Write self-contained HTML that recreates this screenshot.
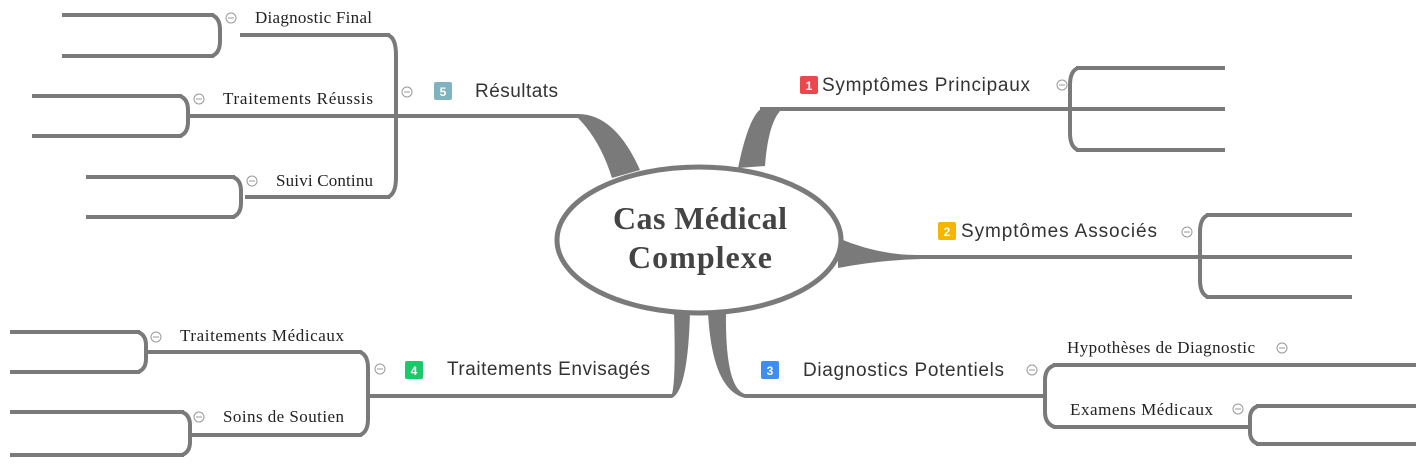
<!DOCTYPE html>
<html><head><meta charset="utf-8"><style>
html,body{margin:0;padding:0;background:#fff;width:1416px;height:466px;overflow:hidden}
svg{display:block}
.s{font-family:"Liberation Serif",serif;font-size:17px;fill:#222}
.m{font-family:"Liberation Sans",sans-serif;font-size:19px;fill:#333}
.b{font-family:"Liberation Sans",sans-serif;font-size:12px;fill:#fff;font-weight:bold}
</style></head><body>
<svg width="1416" height="466" viewBox="0 0 1416 466">
<g fill="none" stroke="#7a7a7a" stroke-width="4" stroke-linecap="butt">
<path d="M390 116 H578"/>
<path d="M390 35 H240"/><path d="M395 116 H190"/><path d="M390 197 H245"/>
<path d="M388 35 Q396 38 396 55 V177 Q396 194 388 197"/>
<path d="M214 15 H62 M214 56 H62"/><path d="M212 15 Q220 18 220 30 V41 Q220 53 212 56"/>
<path d="M182 96 H32 M182 136 H32"/><path d="M180 96 Q188 99 188 110 V122 Q188 133 180 136"/>
<path d="M235 177 H86 M235 217 H86"/><path d="M233 177 Q241 180 241 191 V203 Q241 214 233 217"/>
<path d="M760 109 H1072"/>
<path d="M1078 68 Q1070 71 1070 85 V133 Q1070 147 1078 150"/>
<path d="M1076 68 H1225 M1070 109 H1225 M1076 150 H1225"/>
<path d="M915 257 H1200"/>
<path d="M1208 215 Q1200 218 1200 232 V280 Q1200 294 1208 297"/>
<path d="M1206 215 H1352 M1200 257 H1352 M1206 297 H1352"/>
<path d="M745 396 H1045"/>
<path d="M1055 365 Q1045 368 1045 380 V412 Q1045 424 1055 427"/>
<path d="M1053 365 H1416 M1053 427 H1250"/>
<path d="M1258 406 Q1250 409 1250 418 V432 Q1250 441 1258 444"/>
<path d="M1256 406 H1416 M1256 444 H1416"/>
<path d="M672 396 H368"/>
<path d="M360 352 Q368 355 368 368 V419 Q368 432 360 435"/>
<path d="M362 352 H145 M362 435 H190"/>
<path d="M138 332 Q146 335 146 345 V359 Q146 369 138 372"/>
<path d="M140 332 H10 M140 372 H10"/>
<path d="M182 412 Q190 415 190 425 V442 Q190 452 182 455"/>
<path d="M184 412 H10 M184 455 H10"/>
</g>
<g fill="#7a7a7a" stroke="none">
<path d="M578 114 Q615 114 640 170 L612 178 Q600 140 578 118 Z"/>
<path d="M765 107 Q750 110 738 168 L765 166 Q768 125 780 111 Z"/>
<path d="M838 238 Q880 256 922 255 L922 259 Q880 260 838 268 Z"/>
<path d="M708 312 Q712 390 745 398 L745 394 Q725 388 726 312 Z"/>
<path d="M690 312 Q688 390 672 398 L672 394 Q676 380 674 312 Z"/>
</g>
<ellipse cx="699" cy="240" rx="142" ry="73" fill="#fff" stroke="#7a7a7a" stroke-width="5"/>
<text x="613" y="229" textLength="174" font-family="Liberation Serif,serif" font-weight="bold" font-size="32" fill="#444">Cas Médical</text>
<text x="628" y="268" textLength="144" font-family="Liberation Serif,serif" font-weight="bold" font-size="32" fill="#444">Complexe</text>
<g fill="none" stroke="#999" stroke-width="1">
<circle cx="231" cy="18" r="5"/><circle cx="199" cy="99" r="5"/><circle cx="252" cy="181" r="5"/><circle cx="407" cy="92" r="5"/>
<circle cx="1062" cy="85" r="5"/><circle cx="1187" cy="232" r="5"/><circle cx="1032" cy="370" r="5"/>
<circle cx="1282" cy="348" r="5"/><circle cx="1238" cy="409" r="5"/><circle cx="380" cy="369" r="5"/>
<circle cx="156" cy="337" r="5"/><circle cx="199" cy="417" r="5"/>
</g>
<g stroke="#999" stroke-width="1">
<path d="M228 18h6M196 99h6M249 181h6M404 92h6M1059 85h6M1184 232h6M1029 370h6M1279 348h6M1235 409h6M377 369h6M153 337h6M196 417h6"/>
</g>
<rect x="434" y="82" width="18" height="18" rx="2" fill="#7fb3bf"/><text x="443" y="96" text-anchor="middle" class="b">5</text>
<rect x="800" y="76" width="18" height="18" rx="2" fill="#e9494d"/><text x="809" y="90" text-anchor="middle" class="b">1</text>
<rect x="938" y="222" width="18" height="18" rx="2" fill="#f7b500"/><text x="947" y="236" text-anchor="middle" class="b">2</text>
<rect x="761" y="361" width="18" height="18" rx="2" fill="#3d8ef0"/><text x="770" y="375" text-anchor="middle" class="b">3</text>
<rect x="405" y="361" width="18" height="18" rx="2" fill="#1ac96a"/><text x="414" y="375" text-anchor="middle" class="b">4</text>
<text x="475" y="97" class="m" textLength="83">Résultats</text>
<text x="822" y="91" class="m" textLength="208">Symptômes Principaux</text>
<text x="961" y="237" class="m" textLength="196">Symptômes Associés</text>
<text x="803" y="376" class="m" textLength="201">Diagnostics Potentiels</text>
<text x="447" y="375" class="m" textLength="203">Traitements Envisagés</text>
<text x="255" y="23" class="s" textLength="117">Diagnostic Final</text>
<text x="223" y="104" class="s" textLength="150">Traitements Réussis</text>
<text x="276" y="186" class="s" textLength="97">Suivi Continu</text>
<text x="1067" y="353" class="s" textLength="188">Hypothèses de Diagnostic</text>
<text x="1070" y="415" class="s" textLength="143">Examens Médicaux</text>
<text x="180" y="341" class="s" textLength="164">Traitements Médicaux</text>
<text x="223" y="422" class="s" textLength="121">Soins de Soutien</text>
</svg>
</body></html>
